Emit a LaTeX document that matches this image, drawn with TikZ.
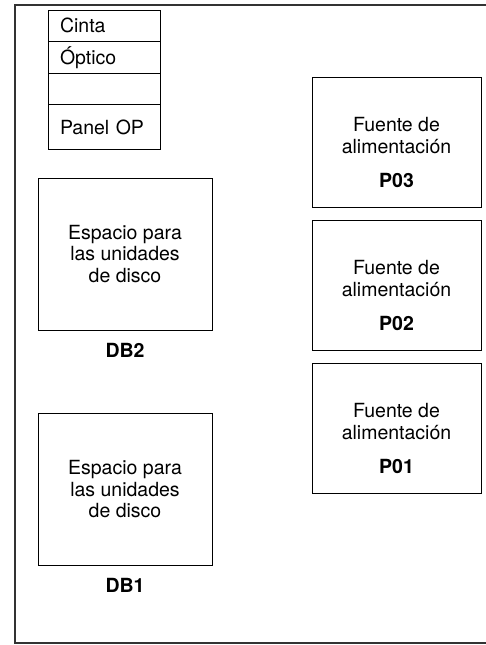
\documentclass[tikz,border=0pt]{standalone}
\usepackage{fontspec}
\setmainfont{TeX Gyre Heros}
\usetikzlibrary{positioning}

\tikzset{
  frame/.style={draw=black!80, line width=1.2pt},
  bay/.style={draw, line width=0.8pt, outer sep=0pt, text width=88pt, inner xsep=12pt,
    align=left, minimum height=31.5pt},
  diskbay/.style={draw, line width=0.8pt, outer sep=0pt, minimum width=174pt,
    minimum height=152pt, align=center},
  psu/.style={draw, line width=0.8pt, outer sep=0pt, minimum width=169pt, minimum height=130pt},
  tag/.style={inner sep=0pt, font=\fontsize{19.5}{21.5}\selectfont\bfseries}
}

\begin{document}
\begin{tikzpicture}[x=1pt, y=1pt, node distance={13pt},
  every node/.append style={font=\fontsize{19.5}{21.5}\selectfont}]
\useasboundingbox (0,0) rectangle (486,645);

% chassis outline, open to the right
\draw[frame] (486,640) -- (15,640) -- (15,2) -- (486,2);

% media bays
\node[bay, anchor=north west] (cinta) at (48,635) {Cinta};
\node[bay, below=0pt of cinta] (optico) {Óptico};
\node[bay, below=0pt of optico] (vacio) {};
\node[bay, below=0pt of vacio, minimum height=45pt] (panel) {Panel OP};

% disk bays
\node[diskbay] (db2) at (125,391) {Espacio para\\las unidades\\de disco};
\node[tag, below=13pt of db2] (db2tag) {DB2};
\node[diskbay] (db1) at (125,155.5) {Espacio para\\las unidades\\de disco};
\node[tag, below=13pt of db1] (db1tag) {DB1};

% power supplies
\node[psu, label={[yshift=-10pt, align=center]center:{Fuente de\\alimentación\\[13pt]\textbf{P03}}}]
  (p03) at (396.5,502.5) {};
\node[psu, below=of p03, label={[yshift=-10pt, align=center]center:{Fuente de\\alimentación\\[13pt]\textbf{P02}}}]
  (p02) {};
\node[psu, below=of p02, label={[yshift=-10pt, align=center]center:{Fuente de\\alimentación\\[13pt]\textbf{P01}}}]
  (p01) {};
\end{tikzpicture}
\end{document}
